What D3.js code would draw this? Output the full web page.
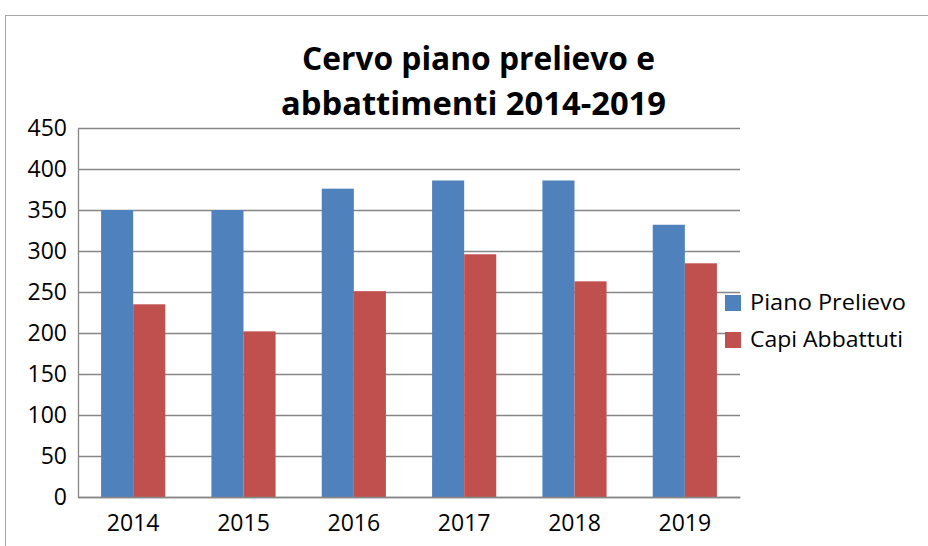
<!DOCTYPE html>
<html>
<head>
<meta charset="utf-8">
<script src="https://cdn.jsdelivr.net/npm/d3@7"></script>
<style>
  body { margin: 0; background: #fff; }
  svg { display: block; }
</style>
</head>
<body>
<div id="chart"></div>
<script>
// data
var years = ["2014", "2015", "2016", "2017", "2018", "2019"];
var pianoPrelievo = [350, 350, 376, 386, 386, 332];
var capiAbbattuti = [235, 202, 251, 296, 263, 285];
var seriesNames = ["Piano Prelievo", "Capi Abbattuti"];
var seriesColors = ["#4f81bd", "#c0504d"];
var yTicks = [0, 50, 100, 150, 200, 250, 300, 350, 400, 450];

var width = 928, height = 546;
var plot = { left: 78, right: 740, top: 128, bottom: 497 };
var labelFont = "'Open Sans', sans-serif";

var svg = d3.select("#chart").append("svg")
    .attr("width", width)
    .attr("height", height);

// outer frame (only top + left visible)
svg.append("line")
    .attr("x1", 5).attr("x2", width).attr("y1", 15.5).attr("y2", 15.5)
    .attr("stroke", "#a6a6a6");
svg.append("line")
    .attr("x1", 5.5).attr("x2", 5.5).attr("y1", 15).attr("y2", height)
    .attr("stroke", "#a6a6a6");

// title, two lines
var titleLines = [
  { text: "Cervo piano prelievo e", x: 478.5, y: 70, len: 353 },
  { text: "abbattimenti 2014-2019", x: 473.5, y: 115, len: 385 }
];
svg.append("g")
  .selectAll("text")
  .data(titleLines)
  .enter()
  .append("text")
    .attr("x", d => d.x)
    .attr("y", d => d.y)
    .attr("text-anchor", "middle")
    .attr("font-family", labelFont)
    .attr("font-weight", "bold")
    .attr("font-size", 33)
    .attr("textLength", d => d.len)
    .attr("lengthAdjust", "spacingAndGlyphs")
    .attr("fill", "#000")
    .text(d => d.text);

var x0 = d3.scaleBand()
    .domain(years)
    .range([plot.left, plot.right]);

var x1 = d3.scaleBand()
    .domain(seriesNames)
    .range([0, x0.bandwidth()])
    .paddingInner(0)
    .paddingOuter(0.72);

var y = d3.scaleLinear()
    .domain([0, 450])
    .range([plot.bottom, plot.top]);

// gridlines
svg.append("g")
  .selectAll("line")
  .data(yTicks)
  .enter()
  .append("line")
    .attr("x1", plot.left)
    .attr("x2", plot.right)
    .attr("y1", d => Math.round(y(d)) + 0.5)
    .attr("y2", d => Math.round(y(d)) + 0.5)
    .attr("stroke", "#868686")
    .attr("stroke-width", 1.3);

// y axis
var leftAxis = d3.axisLeft(y).tickValues(yTicks).tickSize(0).tickPadding(11);
var yAxis = svg.append("g")
    .attr("transform", "translate(" + plot.left + ",0)")
    .call(leftAxis);
yAxis.select(".domain").attr("stroke", "#868686").attr("stroke-width", 1.3);
yAxis.selectAll("text")
    .attr("font-family", labelFont)
    .attr("font-size", 23)
    .attr("fill", "#000");

// bars
var rows = years.map(function(yr, i) {
    return { year: yr, values: [pianoPrelievo[i], capiAbbattuti[i]] };
});

var groups = svg.append("g")
  .selectAll("g")
  .data(rows)
  .enter()
  .append("g")
    .attr("transform", d => "translate(" + x0(d.year) + ",0)");

groups.selectAll("rect")
    .data(d => d.values.map((v, j) => ({ name: seriesNames[j], value: v, color: seriesColors[j] })))
    .enter()
    .append("rect")
      .attr("x", d => x1(d.name))
      .attr("width", x1.bandwidth())
      .attr("y", d => y(d.value))
      .attr("height", d => y(0) - y(d.value))
      .attr("fill", d => d.color);

// x axis
var bottomAxis = d3.axisBottom(x0).tickSize(0).tickPadding(18);
var xAxis = svg.append("g")
    .attr("transform", "translate(0," + plot.bottom + ")")
    .call(bottomAxis);
xAxis.select(".domain").attr("stroke", "#868686").attr("stroke-width", 1.3);
xAxis.selectAll("text")
    .attr("font-family", labelFont)
    .attr("font-size", 23)
    .attr("fill", "#000");

// legend
var legendLens = [156, 153];
var legend = svg.append("g")
  .selectAll("g")
  .data(seriesNames)
  .enter()
  .append("g")
    .attr("transform", (d, i) => "translate(725," + (295 + i * 37) + ")");

legend.append("rect")
    .attr("width", 16)
    .attr("height", 16)
    .attr("fill", (d, i) => seriesColors[i]);

legend.append("text")
    .attr("x", 25)
    .attr("y", 15)
    .attr("font-family", labelFont)
    .attr("font-size", 21)
    .attr("textLength", (d, i) => legendLens[i])
    .attr("lengthAdjust", "spacingAndGlyphs")
    .attr("fill", "#000")
    .text(d => d);
</script>
</body>
</html>
